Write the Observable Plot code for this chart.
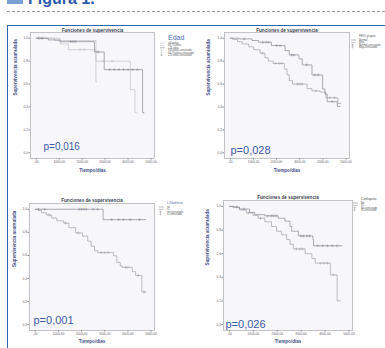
<!DOCTYPE html>
<html><head><meta charset="utf-8">
<script src="https://cdn.jsdelivr.net/npm/d3@7"></script>
<script src="https://cdn.jsdelivr.net/npm/@observablehq/plot@0.6"></script>
<style>
body{margin:0;background:#fff;}
#page{position:relative;width:385px;height:348px;overflow:hidden;font-family:"Liberation Sans",Arial,sans-serif;}
.abs{position:absolute;}
</style></head><body><div id="page"></div>
<script>
// ---- shared ticks ----
const xTicks = [0, 1000, 2000, 3000, 4000, 5000];
const yTicks = [0, 0.2, 0.4, 0.6, 0.8, 1.0];
const chartTitle = "Funciones de supervivencia";
const xLabel = "Tiempo/días";
const yLabel = "Supervivencia acumulada";

// ---- Panel 1: Edad ----
const edadLabels = ["<60 años", "60-75 años", "≥75 años"];
const edadA = [[0,1],[520,0.985],[1040,0.97],[2535,0.88],[2960,0.726],[4630,0.35],[4700,0.35]];
const edadACens = [100,250,1500,1600,1700,2700,3200,3400,3600,3800,4000,4200,4400];
const edadB = [[0,1],[1040,0.95],[1400,0.90],[2600,0.80],[4100,0.55],[4300,0.35],[4400,0.35]];
const edadBCens = [300,1900,2100,2900,3300];
const edadC = [[0,1],[800,0.98],[2600,0.62],[2650,0.62]];
const edadCCens = [150];
const edadP = "p=0,016";

// ---- Panel 2: FEVI ----
const feviLabels = ["Normal", "Baja"];
const feviA = [[0,1],[378,0.994],[938,0.98],[1218,0.965],[1778,0.936],[2366,0.892],[2548,0.854],[2968,0.819],[3108,0.767],[3528,0.679],[3990,0.557],[4088,0.513],[4186,0.446],[4620,0.405],[4746,0.405]];
const feviACens = [600,1400,1550,1650,2000,2150,2650,2750,3300,3650,3800,4400];
const feviB = [[0,1],[98,0.99],[308,0.97],[518,0.95],[798,0.925],[1008,0.90],[1288,0.87],[1498,0.83],[1638,0.80],[1848,0.78],[2338,0.73],[2450,0.68],[2548,0.63],[2688,0.60],[3318,0.56],[3528,0.54],[3878,0.53],[4130,0.48],[4648,0.43],[4788,0.43]];
const feviBCens = [1400,1950,2100,2200,2900,3000,3100,3700,4300,4500];
const feviP = "p=0,028";

// ---- Panel 3: Diuréticos ----
const diurLabels = ["no", "sí"];
const diurA = [[0,1],[2930,0.91],[4780,0.91]];
const diurACens = [150,400,1900,2000,2100,2200,2500,2700,3300,3600,3800,4100,4500];
const diurB = [[0,1],[118,0.99],[266,0.97],[488,0.95],[710,0.923],[932,0.90],[1228,0.88],[1450,0.84],[1746,0.795],[2042,0.767],[2264,0.724],[2412,0.68],[2560,0.64],[2708,0.625],[3374,0.597],[3522,0.54],[3670,0.51],[3744,0.497],[4188,0.46],[4336,0.426],[4603,0.284],[4780,0.284]];
const diurBCens = [600,1300,1850,2850,3000,3150,3900,4000,4450,4700];
const diurP = "p=0,001";

// ---- Panel 4: Cardiopatía ----
const cardLabels = ["No", "Sí"];
const cardA = [[0,1],[211,0.995],[422,0.978],[845,0.95],[1056,0.93],[1478,0.92],[2042,0.90],[2323,0.875],[2534,0.83],[2605,0.79],[2886,0.75],[3492,0.72],[3520,0.667],[4717,0.667]];
const cardACens = [300,600,1600,1750,1850,1950,3000,3100,3250,3350,3700,3900,4100,4300,4500];
const cardB = [[0,1],[141,0.99],[422,0.97],[704,0.945],[986,0.925],[1197,0.90],[1478,0.87],[1760,0.83],[1971,0.79],[2182,0.76],[2394,0.72],[2534,0.68],[2675,0.64],[3168,0.60],[3450,0.56],[3590,0.52],[4224,0.42],[4506,0.20],[4646,0.20]];
const cardBCens = [800,1300,2800,2950,3050,3800,3950,4100,4350];
const cardP = "p=0,026";

const page = document.getElementById("page");
const pColor = "#3d5aa8";
const axisColor = "#44508a";

function survAt(curve, t) {
  let s = curve[0][1];
  for (const [ti, si] of curve) if (ti <= t) s = si;
  return s;
}

function panel(cfg) {
  const {left, top, width, height, frame, series, pText, pDx, pDy, pSize, titleDy, xLabDy} = cfg;
  const [x0, y0, x1, y1] = frame;
  const marks = [
    Plot.frame({fill: "#f7f7f9", stroke: "#b4b4ba", strokeWidth: 0.8}),
    Plot.axisX({ticks: xTicks, tickFormat: d => d === 0 ? ",00" : d + ",00", tickSize: 1.5, tickPadding: 1, fontSize: 3.2, label: null, stroke: "#888", fill: "#666"}),
    Plot.axisY({ticks: yTicks, tickFormat: d => d.toFixed(1).replace(".", ","), tickSize: 1.5, tickPadding: 1, fontSize: 3.2, label: null, stroke: "#888", fill: "#666"}),
    Plot.text([xLabel], {frameAnchor: "bottom", dy: xLabDy, fontSize: 4.6, fontWeight: "bold", fill: axisColor, text: d => d}),
    Plot.text([yLabel], {frameAnchor: "left", dx: cfg.yLabDx, rotate: -90, fontSize: 4.6, fontWeight: "bold", fill: axisColor, text: d => d}),
    Plot.text([chartTitle], {frameAnchor: "top", dy: titleDy, fontSize: 4.6, fontWeight: "bold", fill: "#3a3f55", text: d => d})
  ];
  for (const s of series) {
    marks.push(Plot.line(s.curve, {x: d => d[0], y: d => d[1], curve: "step-after", stroke: s.color, strokeWidth: 0.7}));
    marks.push(Plot.dot(s.cens, {x: d => d, y: d => survAt(s.curve, d), symbol: "plus", r: 1, stroke: s.color, strokeWidth: 0.5}));
  }
  marks.push(Plot.text([pText], {frameAnchor: "bottom-left", dx: pDx, dy: pDy, fontSize: pSize, fill: pColor, textAnchor: "start", text: d => d}));
  const chart = Plot.plot({
    width, height,
    marginLeft: x0 - left, marginRight: left + width - x1,
    marginTop: y0 - top, marginBottom: top + height - y1,
    x: {domain: [-250, 5150]},
    y: {domain: [-0.05, 1.05]},
    style: {fontFamily: "Liberation Sans, Arial, sans-serif", fontSize: "4px", background: "transparent", overflow: "visible"},
    marks
  });
  chart.classList.add("abs");
  chart.style.left = left + "px";
  chart.style.top = top + "px";
  page.appendChild(chart);
}

function legend(left, top, header, headerSize, headerColor, items) {
  const svg = d3.select(page).append("svg").attr("class", "abs")
    .style("left", left + "px").style("top", top + "px")
    .attr("width", 40).attr("height", 30).style("overflow", "visible");
  svg.append("text").attr("x", 8).attr("y", 0).attr("dy", "0.8em")
    .attr("font-size", headerSize).attr("fill", headerColor).attr("font-family", "Liberation Sans, Arial").text(header);
  let y = headerSize + 2;
  for (const it of items) {
    if (it.cens) {
      svg.append("path").attr("d", `M1.5,${y - 1.2}V${y + 1.2}M0.3,${y}H2.7`).attr("stroke", it.color).attr("stroke-width", 0.5);
    } else {
      svg.append("path").attr("d", `M0,${y}H5`).attr("stroke", it.color).attr("stroke-width", 0.6);
    }
    svg.append("text").attr("x", 8).attr("y", y).attr("dy", "0.35em").attr("font-size", 2.6)
      .attr("fill", "#555").attr("font-family", "Liberation Sans, Arial").text(it.label);
    y += 2.4;
  }
}

// ---- frame & header ----
page.insertAdjacentHTML("beforeend", `
  <div class="abs" style="left:7px;top:-5px;width:16px;height:9px;background:#7a9fd6;"></div>
  <div class="abs" style="left:28px;top:-10px;font:bold 16px 'Liberation Sans',Arial,sans-serif;color:#2c5aa8;">Figura 1.</div>
  <div class="abs" style="left:7px;top:11px;width:378px;border-top:1px dashed #9a9a9a;"></div>
  <div class="abs" style="left:7px;top:25px;width:380px;height:330px;border-left:1.5px solid #2f62b3;border-top:1.5px solid #2f62b3;"></div>
`);

const dark = "#8a8b93", light = "#c2c2c8", mid = "#a2a2a9";

panel({left: 10, top: 26, width: 150, height: 160, frame: [30, 32, 154, 158],
  series: [{curve: edadC, cens: edadCCens, color: light}, {curve: edadB, cens: edadBCens, color: light}, {curve: edadA, cens: edadACens, color: dark}],
  pText: edadP, pDx: 13, pDy: -9, pSize: 10, titleDy: -4, xLabDy: 13, yLabDx: -15});
panel({left: 200, top: 26, width: 155, height: 160, frame: [224, 32, 349, 158],
  series: [{curve: feviB, cens: feviBCens, color: mid}, {curve: feviA, cens: feviACens, color: dark}],
  pText: feviP, pDx: 6, pDy: -5, pSize: 11, titleDy: -4, xLabDy: 13, yLabDx: -16});
panel({left: 10, top: 190, width: 150, height: 158, frame: [29, 203, 154, 330],
  series: [{curve: diurB, cens: diurBCens, color: mid}, {curve: diurA, cens: diurACens, color: dark}],
  pText: diurP, pDx: 4, pDy: -7, pSize: 11, titleDy: -5, xLabDy: 12, yLabDx: -15});
panel({left: 200, top: 190, width: 158, height: 158, frame: [223, 200, 352, 330],
  series: [{curve: cardB, cens: cardBCens, color: mid}, {curve: cardA, cens: cardACens, color: dark}],
  pText: cardP, pDx: 2, pDy: -3, pSize: 11, titleDy: -5, xLabDy: 12, yLabDx: -16});

legend(160, 34, "Edad", 7, "#4a6ab5", [
  {label: edadLabels[0], color: light}, {label: edadLabels[1], color: light}, {label: edadLabels[2], color: dark},
  {label: edadLabels[0] + "-censurado", color: light, cens: true}, {label: edadLabels[1] + "-censurado", color: light, cens: true}, {label: edadLabels[2] + "-censurado", color: dark, cens: true}]);
legend(351, 35, "FEVI grupos", 3, "#555", [
  {label: feviLabels[0], color: dark}, {label: feviLabels[1], color: mid},
  {label: feviLabels[0] + "-censurado", color: dark, cens: true}, {label: feviLabels[1] + "-censurado", color: mid, cens: true}]);
legend(159, 202, "L.Diuréticos", 3, "#3b57a8", [
  {label: diurLabels[0], color: dark}, {label: diurLabels[1], color: mid},
  {label: diurLabels[0] + "-censurado", color: dark, cens: true}, {label: diurLabels[1] + "-censurado", color: mid, cens: true}]);
legend(353, 198, "Cardiopatía", 3, "#555", [
  {label: cardLabels[0], color: dark}, {label: cardLabels[1], color: mid},
  {label: cardLabels[0] + "-censurado", color: dark, cens: true}, {label: cardLabels[1] + "-censurado", color: mid, cens: true}]);
</script></body></html>
